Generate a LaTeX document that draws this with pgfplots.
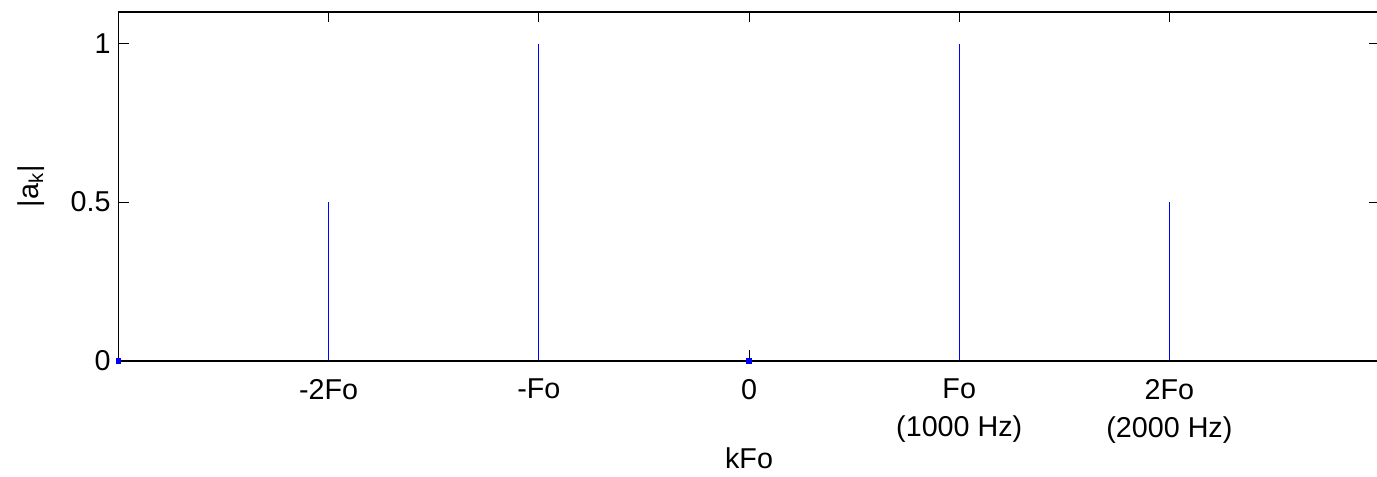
\documentclass[border=0pt]{standalone}
\usepackage{fontspec}
\setmainfont{Liberation Sans}
\usepackage{pgfplots}
\pgfplotsset{compat=1.18}
\definecolor{stemblue}{HTML}{0000FF}

\begin{document}
\begin{tikzpicture}
\begin{scope}
% the reference is cut just before the right spine
\clip (-80pt,-80pt) rectangle (478pt,137pt);
\begin{axis}[
  at={(0,0)}, anchor=south west,
  scale only axis, width=479pt, height=132.5pt,
  xmin=-3, xmax=3, ymin=0, ymax=1.1,
  xtick={-2,-1,0,1,2},
  xticklabels={-2Fo,-Fo,0,{Fo\\(1000 Hz)},{2Fo\\(2000 Hz)}},
  xticklabel style={align=center, font=\fontsize{10.9}{14.4}\selectfont, yshift=-3.5pt},
  ytick={0,0.5,1},
  yticklabel style={font=\fontsize{10.9}{14.4}\selectfont, xshift=0.5pt},
  /pgf/number format/assume math mode=true,
  tick align=inside, major tick length=4pt,
  tick style={black, line width=0.4pt},
  axis line style={line width=0.6pt},
  xlabel={kFo}, ylabel={|a\textsubscript{k}|},
  label style={font=\fontsize{10.9}{14.4}\selectfont},
  xlabel style={yshift=5pt},
  ylabel style={yshift=3pt},
  clip=false,
]
\addplot[ycomb, stemblue, line width=0.4pt, mark=none] coordinates
  {(-2,0.5) (-1,1) (1,1) (2,0.5)};
\addplot[only marks, mark=square*, mark size=0.9pt, stemblue] coordinates
  {(-3,0) (0,0)};
\draw[black, line width=0.8pt] (axis cs:-3,0) -- (axis cs:3,0);
\end{axis}
\end{scope}
\pgfresetboundingbox
\useasboundingbox (-45pt,-44pt) rectangle (478pt,137pt);
\end{tikzpicture}
\end{document}
